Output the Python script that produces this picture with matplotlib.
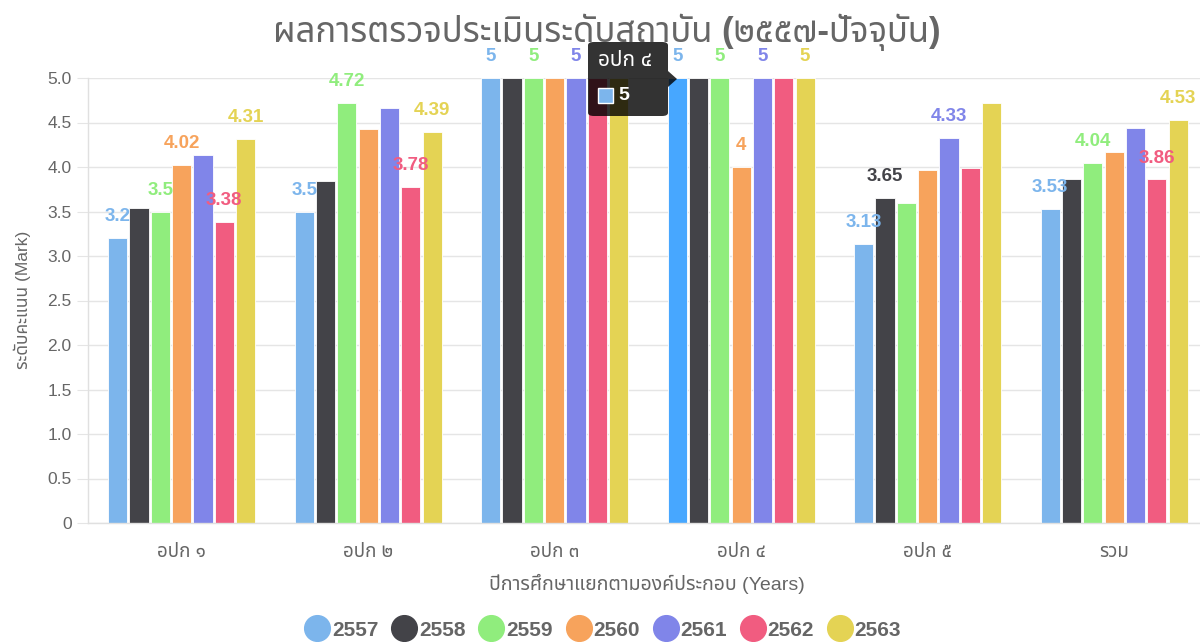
import matplotlib
matplotlib.use('Agg')
import matplotlib.pyplot as plt
import numpy as np
from matplotlib.lines import Line2D
from matplotlib.patches import FancyBboxPatch, Polygon, Rectangle

plt.rcParams['font.family'] = ['Liberation Sans', 'Noto Sans Thai', 'DejaVu Sans']

categories = ['อปก ๑', 'อปก ๒', 'อปก ๓', 'อปก ๔', 'อปก ๕', 'รวม']
years = ['2557', '2558', '2559', '2560', '2561', '2562', '2563']
v2557 = [3.2, 3.5, 5, 5, 3.13, 3.53]
v2558 = [3.54, 3.84, 5, 5, 3.65, 3.87]
v2559 = [3.5, 4.72, 5, 5, 3.59, 4.04]
v2560 = [4.02, 4.43, 5, 4, 3.97, 4.17]
v2561 = [4.13, 4.66, 5, 5, 4.33, 4.44]
v2562 = [3.38, 3.78, 5, 5, 3.99, 3.86]
v2563 = [4.31, 4.39, 5, 5, 4.72, 4.53]
series = [v2557, v2558, v2559, v2560, v2561, v2562, v2563]
colors = ['#7cb5ec', '#434348', '#90ed7d', '#f7a35c', '#8085e9', '#f15c80', '#e4d354']
hover_color = '#47a7ff'
# which value labels are visible (others hidden by overlap / tooltip)
label_shown = [
    [1, 1, 1, 1, 1, 1],
    [0, 0, 0, 0, 1, 0],
    [1, 1, 1, 1, 0, 1],
    [1, 0, 0, 1, 0, 0],
    [0, 0, 1, 1, 1, 0],
    [1, 1, 0, 0, 0, 1],
    [1, 1, 0, 1, 0, 1],
]
title = 'ผลการตรวจประเมินระดับสถาบัน (๒๕๕๗-ปัจจุบัน)'
ylabel = 'ระดับคะแนน (Mark)'
xlabel = 'ปีการศึกษาแยกตามองค์ประกอบ (Years)'
tooltip_title = 'อปก ๔'
tooltip_value = '5'

W, H = 1200, 642
fig = plt.figure(figsize=(12, 6.42), dpi=100)
ax = fig.add_axes([88.4 / W, (H - 523) / H, 1119 / W, 445 / H])

n = len(years)
slot = 0.8 / n
bw = slot * 0.9
x = np.arange(len(categories))
for i, (vals, c) in enumerate(zip(series, colors)):
    pos = x - 0.4 + slot * (i + 0.5)
    fc = [c] * len(vals)
    if i == 0:
        fc[3] = hover_color
    ax.bar(pos, vals, width=bw, color=fc, edgecolor='white', linewidth=0.6, zorder=2)
    for j, v in enumerate(vals):
        if label_shown[i][j]:
            txt = ('%g' % v)
            ax.annotate(txt, (pos[j], v), xytext=(0, 12.2), textcoords='offset points',
                        ha='center', va='baseline', color=c, fontsize=13.5,
                        fontweight='bold', zorder=3, annotation_clip=False)

ax.set_xlim(-0.5, len(categories) - 0.5)
ax.set_ylim(0, 5)
yt = np.arange(0, 5.01, 0.5)
ax.set_yticks(yt)
ax.set_yticklabels(['0' if t == 0 else '%.1f' % t for t in yt])
ax.set_xticks(x)
ax.set_xticklabels(categories)
ax.grid(axis='y', color='#e5e5e5', linewidth=1, zorder=0)
for s in ['top', 'right']:
    ax.spines[s].set_visible(False)
for s in ['left', 'bottom']:
    ax.spines[s].set_color('#e0e0e0')
    ax.spines[s].set_linewidth(1)
ax.tick_params(axis='y', length=8, color='#e5e5e5', labelsize=12.5, labelcolor='#666666', pad=4)
ax.tick_params(axis='x', length=0, labelsize=13.5, labelcolor='#666666', pad=15)
ax.set_axisbelow(True)

fig.text(22 / W, 1 - 300 / H, ylabel, rotation=90, ha='center', va='center',
         fontsize=12.5, color='#666666')
fig.text(647 / W, 1 - 584 / H, xlabel, ha='center', va='center',
         fontsize=14, color='#666666')
fig.text(607 / W, 1 - 32 / H, title, ha='center', va='center',
         fontsize=25, color='#666666', fontweight='bold')

handles = [Line2D([], [], marker='o', linestyle='', markersize=18.5, markerfacecolor=c,
                  markeredgecolor=c) for c in colors]
leg = fig.legend(handles, years, loc='center', bbox_to_anchor=(604 / W, 1 - 630 / H),
                 ncol=n, frameon=False, handlelength=1.0, handletextpad=0.2,
                 columnspacing=0.75, prop={'size': 15, 'weight': 'bold'})
for t in leg.get_texts():
    t.set_color('#666666')

# tooltip overlay (pixel coordinates of figure)
def px(xp, yp):
    return (xp / W, 1 - yp / H)

tb = FancyBboxPatch(px(588, 116), 80 / W, 74 / H, boxstyle='round,pad=0,rounding_size=0.005',
                    transform=fig.transFigure, facecolor=(0, 0, 0, 0.8), edgecolor='none', zorder=10)
fig.patches.append(tb)
car = Polygon([px(668, 71), px(677, 79), px(668, 87)], closed=True, transform=fig.transFigure,
              facecolor=(0, 0, 0, 0.8), edgecolor='none', zorder=10)
fig.patches.append(car)
sq = Rectangle(px(598, 103), 15 / W, 15 / H, transform=fig.transFigure, facecolor=colors[0],
               edgecolor='white', linewidth=1, zorder=11)
fig.patches.append(sq)
fig.text(598 / W, 1 - 61 / H, tooltip_title, ha='left', va='center', fontsize=15,
         fontweight='bold', color='white', zorder=12)
fig.text(618 / W, 1 - 95 / H, tooltip_value, ha='left', va='center', fontsize=14,
         fontweight='bold', color='white', zorder=12)

fig.savefig('out.png', dpi=100)
